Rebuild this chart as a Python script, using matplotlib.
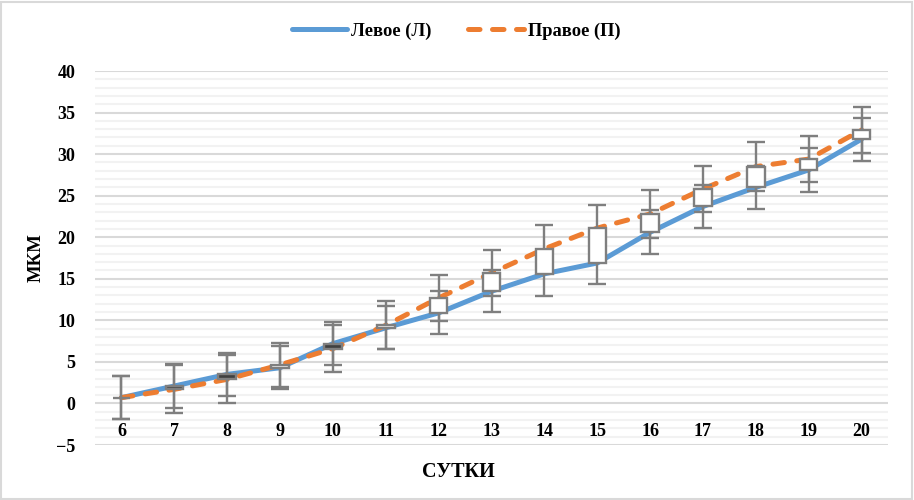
import numpy as np
import matplotlib
matplotlib.use("Agg")
import matplotlib.pyplot as plt
from matplotlib.patches import Rectangle

plt.rcParams['font.family'] = ['Liberation Serif', 'DejaVu Serif']
plt.rcParams['font.weight'] = 'bold'

days = [6, 7, 8, 9, 10, 11, 12, 13, 14, 15, 16, 17, 18, 19, 20]
left = [0.7, 2.1, 3.5, 4.3, 7.2, 9.1, 10.9, 13.5, 15.6, 16.9, 20.6, 23.7, 26.0, 28.1, 31.8]
right = [0.7, 1.7, 2.9, 4.65, 6.6, 9.4, 12.7, 15.7, 18.6, 21.1, 22.8, 25.8, 28.5, 29.4, 32.9]
err_left = [2.6, 2.6, 2.6, 2.6, 2.55, 2.6, 2.6, 2.55, 2.7, 2.5, 2.65, 2.55, 2.6, 2.6, 2.6]
err_right = [2.6, 2.9, 2.9, 2.65, 2.8, 2.9, 2.8, 2.8, 2.9, 2.8, 2.85, 2.8, 2.9, 2.8, 2.8]

label_left = "Левое (Л)"
label_right = "Правое (П)"

BLUE = '#5B9BD5'
ORANGE = '#ED7D31'
GRAY = '#7F7F7F'

fig = plt.figure(figsize=(9.14, 5.0), dpi=100)
ax = fig.add_axes([0.104, 0.11, 0.8676, 0.748])

x = np.arange(len(days))
l = np.array(left)
r = np.array(right)

ax.plot(x, l, color=BLUE, lw=3.6, solid_capstyle='round', label=label_left, zorder=3)
ax.plot(x, r, color=ORANGE, lw=3.6, dashes=(2.3, 2.5), dash_capstyle='round',
        label=label_right, zorder=4)

ax.errorbar(x, l, yerr=err_left, fmt='none', ecolor=GRAY, elinewidth=1.7,
            capsize=6.5, capthick=1.7, zorder=5)
ax.errorbar(x, r, yerr=err_right, fmt='none', ecolor=GRAY, elinewidth=1.7,
            capsize=6.5, capthick=1.7, zorder=5)

# up-down bars
bottoms = np.minimum(l, r)
heights = np.abs(r - l)
fills = ['white' if rv >= lv else '#404040' for lv, rv in zip(left, right)]
ax.bar(x, heights, bottom=bottoms, width=0.33, color=fills, edgecolor=GRAY,
       linewidth=1.7, zorder=6)

ax.set_xlim(-0.5, len(days) - 0.5)
ax.set_ylim(-5, 40)
ax.set_yticks(np.arange(-5, 41, 5))
ax.set_yticks(np.arange(-5, 41, 1), minor=True)
ax.set_xticks(x)
ax.set_xticklabels([str(d) for d in days])

ax.grid(axis='y', which='major', color='#D9D9D9', lw=1.5)
ax.grid(axis='y', which='minor', color='#F2F2F2', lw=1.5)
ax.set_axisbelow(True)
# keep the day labels above the horizontal grid
ax.xaxis.set_zorder(2)

for s in ['top', 'right', 'left']:
    ax.spines[s].set_visible(False)
ax.spines['bottom'].set_position(('data', 0))
ax.spines['bottom'].set_visible(False)

ax.tick_params(axis='both', which='both', length=0, labelsize=13)
ax.tick_params(axis='y', pad=14)
ax.tick_params(axis='x', pad=14)
for t in ax.get_xticklabels() + ax.get_yticklabels():
    t.set_fontweight('bold')

fig.text(0.040, 0.485, "МКМ", ha='center', va='center', rotation=90,
         fontsize=13.5, fontweight='bold')
fig.text(0.502, 0.056, "СУТКИ", ha='center', va='center', fontsize=14.5, fontweight='bold')

fig.legend(loc='center', bbox_to_anchor=(0.499, 0.938), ncol=2, frameon=False,
           handlelength=3.0, columnspacing=2.0, handletextpad=0.2,
           prop={'weight': 'bold', 'size': 13.3})

fig.add_artist(Rectangle((0.001, 0.002), 0.997, 0.995, transform=fig.transFigure,
                         fill=False, edgecolor='#D9D9D9', lw=1.5))

fig.savefig("out.png", dpi=100)
